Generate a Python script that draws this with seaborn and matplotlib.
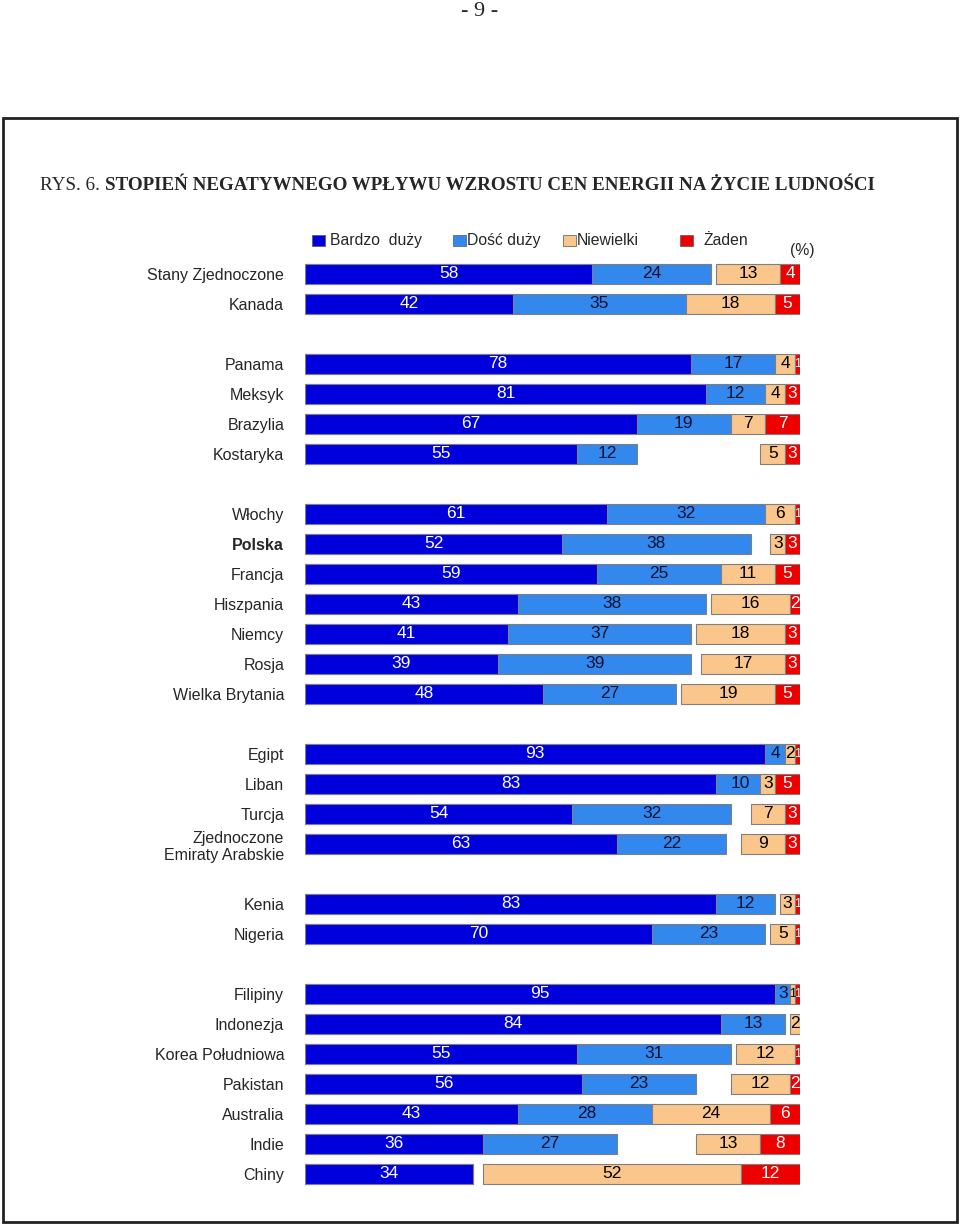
import matplotlib
matplotlib.use("Agg")
import matplotlib.pyplot as plt
import matplotlib.patches as mpatches
import seaborn as sns
import pandas as pd
import numpy as np

countries = ["Stany Zjednoczone", "Kanada",
             "Panama", "Meksyk", "Brazylia", "Kostaryka",
             "Włochy", "Polska", "Francja", "Hiszpania", "Niemcy", "Rosja", "Wielka Brytania",
             "Egipt", "Liban", "Turcja", "Zjednoczone\nEmiraty Arabskie",
             "Kenia", "Nigeria",
             "Filipiny", "Indonezja", "Korea Południowa", "Pakistan", "Australia", "Indie", "Chiny"]
# row slots (empty slot between regional groups)
rows = [0, 1, 3, 4, 5, 6, 8, 9, 10, 11, 12, 13, 14, 16, 17, 18, 19, 21, 22, 24, 25, 26, 27, 28, 29, 30]

bardzo_duzy = [58, 42, 78, 81, 67, 55, 61, 52, 59, 43, 41, 39, 48, 93, 83, 54, 63, 83, 70, 95, 84, 55, 56, 43, 36, 34]
dosc_duzy = [24, 35, 17, 12, 19, 12, 32, 38, 25, 38, 37, 39, 27, 4, 10, 32, 22, 12, 23, 3, 13, 31, 23, 28, 27, 0]
niewielki = [13, 18, 4, 4, 7, 5, 6, 3, 11, 16, 18, 17, 19, 2, 3, 7, 9, 3, 5, 1, 2, 12, 12, 24, 13, 52]
zaden = [4, 5, 1, 3, 7, 3, 1, 3, 5, 2, 3, 3, 5, 1, 5, 3, 3, 1, 1, 1, 0, 1, 2, 6, 8, 12]

legend_labels = ["Bardzo  duży", "Dość duży", "Niewielki", "Żaden"]
colors = ["#0000DD", "#3388EE", "#FAC68C", "#EE0000"]
text_colors = ["white", "#111133", "black", "white"]

df = pd.DataFrame({"country": countries, "row": rows, "bardzo": bardzo_duzy,
                   "dosc": dosc_duzy, "niew": niewielki, "zaden": zaden})
df["duzy_total"] = df["bardzo"] + df["dosc"]
df["zaden_left"] = 100 - df["zaden"]
df["niew_left"] = 100 - df["zaden"] - df["niew"]

sns.set_theme(style="white")
plt.rcParams["font.family"] = ["Liberation Sans", "DejaVu Sans"]

W, H = 960, 1226
fig = plt.figure(figsize=(W / 100, H / 100), dpi=100)
ax = fig.add_axes([305 / W, 1 - 1189 / H, 495 / W, 930 / H])

bh = 0.67
edge = "#7f7f7f"
# left side: stacked by overdrawing
sns.barplot(data=df, x="duzy_total", y="row", orient="y", native_scale=True,
            width=bh, color=colors[1], saturation=1, edgecolor=edge, linewidth=0.8,
            errorbar=None, ax=ax)
sns.barplot(data=df, x="bardzo", y="row", orient="y", native_scale=True,
            width=bh, color=colors[0], saturation=1, edgecolor=edge, linewidth=0.8,
            errorbar=None, ax=ax)
# right side anchored at 100 %
nz = df[df["niew"] > 0]
ax.barh(nz["row"], nz["niew"], left=nz["niew_left"], height=bh,
        color=colors[2], edgecolor=edge, linewidth=0.8)
zz = df[df["zaden"] > 0]
ax.barh(zz["row"], zz["zaden"], left=zz["zaden_left"], height=bh,
        color=colors[3], edgecolor=edge, linewidth=0.8)

for _, r in df.iterrows():
    segs = [(0, r["bardzo"]), (r["bardzo"], r["dosc"]),
            (r["niew_left"], r["niew"]), (r["zaden_left"], r["zaden"])]
    for k, (left, v) in enumerate(segs):
        if v > 0:
            # very thin segments get a smaller digit so neighbours don't collide
            fs = 12.5 if v > 1 else 9
            ax.text(left + v / 2, r["row"], str(int(v)), ha="center", va="center",
                    fontsize=fs, color=text_colors[k])

ax.set_xlim(0, 100)
ax.set_ylim(30.5, -0.5)
ax.set_xticks([])
ax.set_xlabel("")
ax.set_ylabel("")
ax.set_yticks(rows)
ax.set_yticklabels(countries, fontsize=11.5, multialignment="right")
ax.tick_params(axis="y", length=0, pad=15)
for lab in ax.get_yticklabels():
    if lab.get_text() == "Polska":
        lab.set_fontweight("bold")
sns.despine(ax=ax, left=True, bottom=True)


def fx(x):
    return x / W


def fy(y):
    return 1 - y / H


# legend
sq_x = [312, 453, 563, 680]
tx_x = [330, 467, 577, 703]
for c, sx, tx, lab in zip(colors, sq_x, tx_x, legend_labels):
    fig.patches.append(mpatches.Rectangle((fx(sx), fy(246)), 13 / W, 11 / H,
                                          transform=fig.transFigure, facecolor=c,
                                          edgecolor="#555555", linewidth=0.5))
    fig.text(fx(tx), fy(240), lab, ha="left", va="center", fontsize=11.3)
fig.text(fx(790), fy(251), "(%)", ha="left", va="center", fontsize=11.3)

# page frame and headers
fig.patches.append(mpatches.Rectangle((fx(3), fy(1222)), 954 / W, 1104 / H,
                                      transform=fig.transFigure, fill=False,
                                      edgecolor="#222222", linewidth=2))
fig.text(0.5, fy(12), "- 9 -", ha="center", va="center", fontsize=16,
         family="Liberation Serif")
t1 = fig.text(fx(40), fy(185), "RYS. 6. ", ha="left", va="center", fontsize=13.7,
              family="Liberation Serif")
fig.canvas.draw()
bb = t1.get_window_extent()
fig.text(bb.x1 / fig.bbox.width, fy(185),
         "STOPIEŃ NEGATYWNEGO WPŁYWU WZROSTU CEN ENERGII NA ŻYCIE LUDNOŚCI",
         ha="left", va="center", fontsize=13.7, fontweight="bold", family="Liberation Serif")

fig.savefig("out.png", dpi=100)
